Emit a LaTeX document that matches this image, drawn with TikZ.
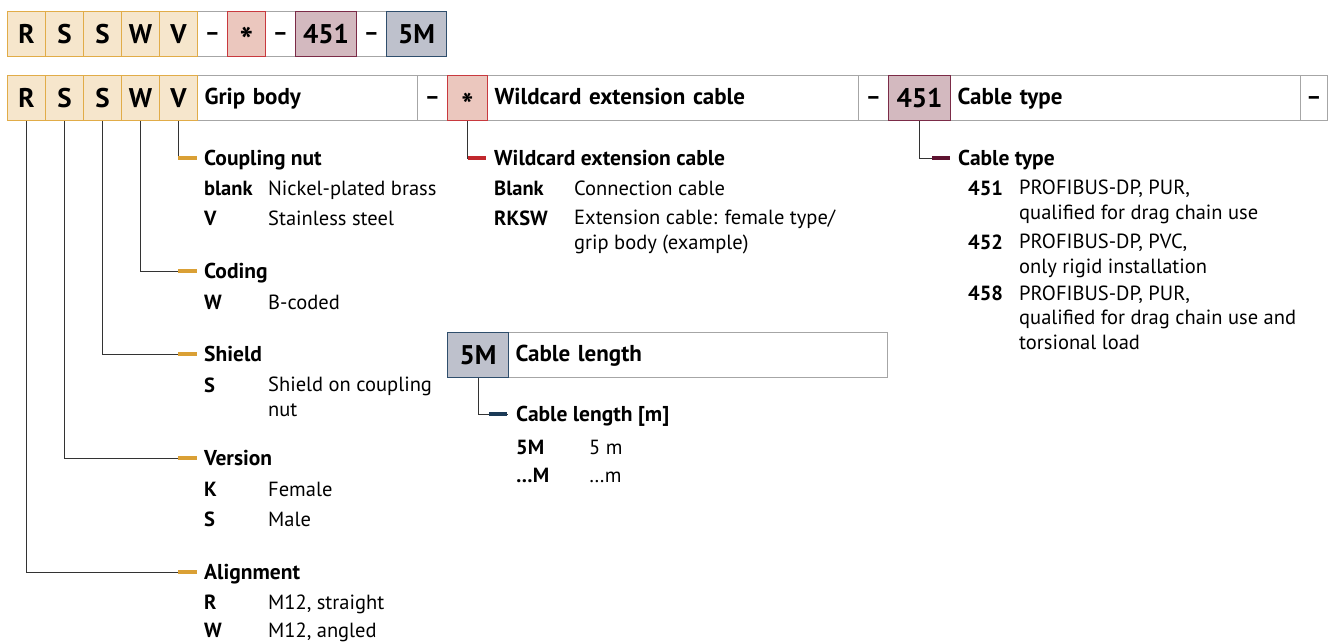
\documentclass[tikz,border=0pt]{standalone}
\usepackage{fontspec}
\setmainfont{PT Sans}
\usetikzlibrary{positioning}
\definecolor{gripline}{HTML}{E1AC48}
\definecolor{gripfill}{HTML}{F6E6CC}
\definecolor{gripbar}{HTML}{DAA035}
\definecolor{wildline}{HTML}{C8393E}
\definecolor{wildfill}{HTML}{EBC7BE}
\definecolor{wildbar}{HTML}{C1272D}
\definecolor{typeline}{HTML}{7B2B47}
\definecolor{typefill}{HTML}{D3B9BF}
\definecolor{typebar}{HTML}{5E1330}
\definecolor{lenline}{HTML}{2F4E6C}
\definecolor{lenfill}{HTML}{BEC1CC}
\definecolor{lenbar}{HTML}{1B3A57}
\definecolor{cellgray}{HTML}{A6A6A6}
\tikzset{
  cell/.style={draw=cellgray, line width=1pt, minimum height=45pt, inner sep=0pt,
    anchor=north west, text height=16pt, text depth=4pt,
    font=\fontsize{23}{27}\selectfont\bfseries},
  dashcell/.style={cell, minimum width=#1},
  namecell/.style={cell, text width=#1, inner xsep=7pt, align=left},
  codebox/.style={cell, minimum width=#1, text height=19pt, text depth=1pt,
    font=\fontsize{27}{30}\selectfont\bfseries},
  gripcode/.style={codebox=38pt, draw=gripline, fill=gripfill},
  wildcode/.style={codebox=#1, draw=wildline, fill=wildfill},
  typecode/.style={codebox=#1, draw=typeline, fill=typefill},
  lencode/.style={codebox=#1, draw=lenline, fill=lenfill},
  lead/.style={draw=black!80, line width=0.9pt},
  bar/.style={line width=3.5pt},
  head/.style={anchor=west, inner sep=0pt, text height=14pt, text depth=0pt,
    font=\fontsize{21.5}{25}\selectfont\bfseries},
  key/.style={anchor=base west, inner sep=0pt, font=\fontsize{20.5}{24.5}\selectfont\bfseries},
  % multi-line descriptions sit on the baseline of their last line
  desc/.style={anchor=base west, inner sep=0pt, align=left,
    font=\fontsize{20.5}{24.5}\selectfont},
}
\newcommand{\wildstar}[1]{{\fontsize{#1}{#1}\selectfont\raisebox{-0.3em}{*}}}
\begin{document}
\begin{tikzpicture}[x=1pt,y=-1pt]
\useasboundingbox (0,0) rectangle (1333,643);
% order code, top row
\node[dashcell=30pt] (td1) at (197,11) {–};
\node[dashcell=30pt] (td2) at (265,11) {–};
\node[dashcell=30pt] (td3) at (356,11) {–};
\node[gripcode] (t1) at (7,11) {R};
\node[gripcode] (t2) at (45,11) {S};
\node[gripcode] (t3) at (83,11) {S};
\node[gripcode] (t4) at (121,11) {W};
\node[gripcode] (t5) at (159,11) {V};
\node[wildcode=38pt] (tw) at (227,11) {\wildstar{36}};
\node[typecode=61pt] (tt) at (295,11) {451};
\node[lencode=60pt] (tl) at (386,11) {5M};
% key row
\node[namecell=206pt] (grip) at (197,75) {Grip body};
\node[dashcell=30pt] (gd1) at (417,75) {–};
\node[namecell=357pt] (wname) at (487,75) {Wildcard extension cable};
\node[dashcell=30pt] (gd2) at (858,75) {–};
\node[namecell=336pt] (cname) at (950,75) {Cable type};
\node[dashcell=27pt] (gd3) at (1300,75) {–};
\node[gripcode] (r1) at (7,75) {R};
\node[gripcode] (r2) at (45,75) {S};
\node[gripcode] (r3) at (83,75) {S};
\node[gripcode] (r4) at (121,75) {W};
\node[gripcode] (r5) at (159,75) {V};
\node[wildcode=40pt] (wild) at (447,75) {\wildstar{32}};
\node[typecode=62pt] (ctype) at (888,75) {451};
% cable length box
\node[namecell=365pt] (lname) at (508,332) {Cable length};
\node[lencode=61pt] (len) at (447,332) {5M};
% grip body headings
\node[head] (hcpl) at (204,158) {Coupling nut};
\node[head] (hcod) at (204,271) {Coding};
\node[head] (hshd) at (204,354) {Shield};
\node[head] (hver) at (204,458) {Version};
\node[head] (hali) at (204,572) {Alignment};
\foreach \src/\dst in {r5/hcpl, r4/hcod, r3/hshd, r2/hver, r1/hali} {
  \draw[lead] (\src.south) |- ([xshift=-7pt]\dst.west);
  \draw[bar, gripbar] ([xshift=-26pt]\dst.west) -- ([xshift=-7pt]\dst.west);
}
\node[key] (kcpl1) at (204,195) {blank};
\node[desc] (dcpl1) at (268,195) {Nickel-plated brass};
\node[key] (kcpl2) at (204,225) {V};
\node[desc] (dcpl2) at (268,225) {Stainless steel};
\node[key] (kcod1) at (204,309) {W};
\node[desc] (dcod1) at (268,309) {B-coded};
\node[key] (kshd1) at (204,392) {S};
\node[desc] (dshd1) at (268,416) {Shield on coupling\\nut};
\node[key] (kver1) at (204,496) {K};
\node[desc] (dver1) at (268,496) {Female};
\node[key] (kver2) at (204,526) {S};
\node[desc] (dver2) at (268,526) {Male};
\node[key] (kali1) at (204,609) {R};
\node[desc] (dali1) at (268,609) {M12, straight};
\node[key] (kali2) at (204,637) {W};
\node[desc] (dali2) at (268,637) {M12, angled};
% wildcard
\node[head] (hwcl) at (494,158) {Wildcard extension cable};
\draw[lead] (wild.south) |- ([xshift=-8pt]hwcl.west);
\draw[bar, wildbar] ([xshift=-26pt]hwcl.west) -- ([xshift=-8pt]hwcl.west);
\node[key] (kwcl1) at (494,195) {Blank};
\node[desc] (dwcl1) at (574,195) {Connection cable};
\node[key] (kwcl2) at (494,225) {RKSW};
\node[desc] (dwcl2) at (574,249) {Extension cable: female type/\\grip body (example)};
% cable type
\node[head] (hctp) at (958,158) {Cable type};
\draw[lead] (ctype.south) |- ([xshift=-8pt]hctp.west);
\draw[bar, typebar] ([xshift=-26pt]hctp.west) -- ([xshift=-8pt]hctp.west);
\node[key] (kctp1) at (968,195) {451};
\node[desc] (dctp1) at (1019,219) {PROFIBUS-DP, PUR,\\qualified for drag chain use};
\node[key] (kctp2) at (968,249) {452};
\node[desc] (dctp2) at (1019,273) {PROFIBUS-DP, PVC,\\only rigid installation};
\node[key] (kctp3) at (968,300) {458};
\node[desc] (dctp3) at (1019,349) {PROFIBUS-DP, PUR,\\qualified for drag chain use and\\torsional load};
% cable length
\node[head] (hlen) at (516,414) {Cable length [m]};
\draw[lead] (len.south) |- ([xshift=-8pt]hlen.west);
\draw[bar, lenbar] ([xshift=-27pt]hlen.west) -- ([xshift=-9pt]hlen.west);
\node[key] (klen1) at (516,454) {5M};
\node[desc] (dlen1) at (589,454) {5 m};
\node[key] (klen2) at (516,482) {…M};
\node[desc] (dlen2) at (589,482) {…m};
\end{tikzpicture}
\end{document}
